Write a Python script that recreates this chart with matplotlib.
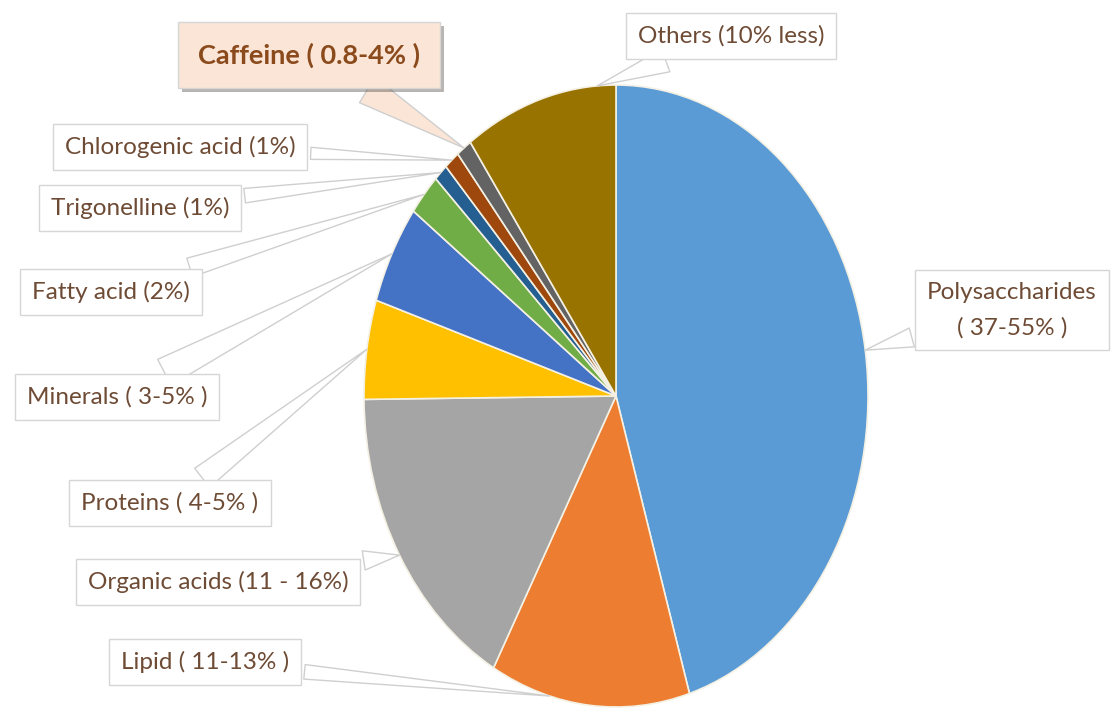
import matplotlib.pyplot as plt
import matplotlib.patheffects as pe
import numpy as np

# Composition of coffee (percent), clockwise from 12 o'clock
components = ['Polysaccharides', 'Lipid', 'Organic acids', 'Proteins', 'Minerals',
              'Fatty acid', 'Trigonelline', 'Chlorogenic acid', 'Caffeine', 'Others']
shares = [45.7, 12.9, 16.9, 5.2, 5.2, 2.2, 0.9, 1.0, 1.0, 9.9]
labels = ['Polysaccharides\n( 37-55% )', 'Lipid ( 11-13% )', 'Organic acids (11 - 16%)',
          'Proteins ( 4-5% )', 'Minerals ( 3-5% )', 'Fatty acid (2%)', 'Trigonelline (1%)',
          'Chlorogenic acid (1%)', 'Caffeine ( 0.8-4% )', 'Others (10% less)']
colors = ['#5B9BD5', '#ED7D31', '#A5A5A5', '#FFC000', '#4472C4',
          '#70AD47', '#255E91', '#9E480E', '#636363', '#997300']

# label box centres in pixels (from top-left of the image)
label_pos = [(1012, 310), (205, 662), (218, 582), (170, 503), (117, 397),
             (111, 292), (140, 208), (180, 147), (309, 55), (731, 36)]
tail_w = [0.8, 0.6, 0.8, 1.0, 1.2, 0.8, 0.6, 0.5, 1.1, 1.0]
# where along each slice's rim the leader line ends (0..1)
anchor = [0.5, 0.3, 0.5, 0.5, 0.5, 0.5, 0.5, 0.5, 0.5, 0.12]

W, H = 1113, 727
cx, cy, rx, ry = 616, 396, 252, 311  # pie ellipse in pixels


def px(x, y):
    return (x - cx) / rx, (cy - y) / ry


fig = plt.figure(figsize=(W / 100, H / 100), dpi=100)
ax = fig.add_axes([0, 0, 1, 1])

wedges, _ = ax.pie(shares, colors=colors, startangle=90, counterclock=False,
                   wedgeprops=dict(edgecolor='#f4f1e4', linewidth=1.2))
ax.set_aspect('auto')
ax.set_xlim(-cx / rx, (W - cx) / rx)
ax.set_ylim(-(H - cy) / ry, cy / ry)
ax.axis('off')

text_col = '#6e4b35'
for i, w in enumerate(wedges):
    ang = np.deg2rad(w.theta1 + anchor[i] * (w.theta2 - w.theta1))
    target = (1.0 * np.cos(ang), 1.0 * np.sin(ang))
    caffeine = components[i] == 'Caffeine'
    fc = '#FBE5D6' if caffeine else 'white'
    t = ax.annotate(labels[i], xy=target, xytext=px(*label_pos[i]),
                    ha='center', va='center', family=['Lato', 'DejaVu Sans'],
                    fontsize=19.5 if caffeine else 17.5,
                    fontweight='bold' if caffeine else 'normal',
                    color='#8a4a1c' if caffeine else text_col,
                    linespacing=1.8,
                    bbox=dict(boxstyle='square,pad=%s' % (0.75 if caffeine else 0.5),
                              fc=fc, ec='#d6d6d6', lw=1),
                    arrowprops=dict(arrowstyle='wedge,tail_width=%s' % tail_w[i],
                                    fc=fc, ec='#cfcfcf', lw=1, shrinkB=0))
    if caffeine:
        t.get_bbox_patch().set_path_effects(
            [pe.SimplePatchShadow(offset=(3, -3), alpha=0.4), pe.Normal()])

plt.savefig('out.png', dpi=100)
